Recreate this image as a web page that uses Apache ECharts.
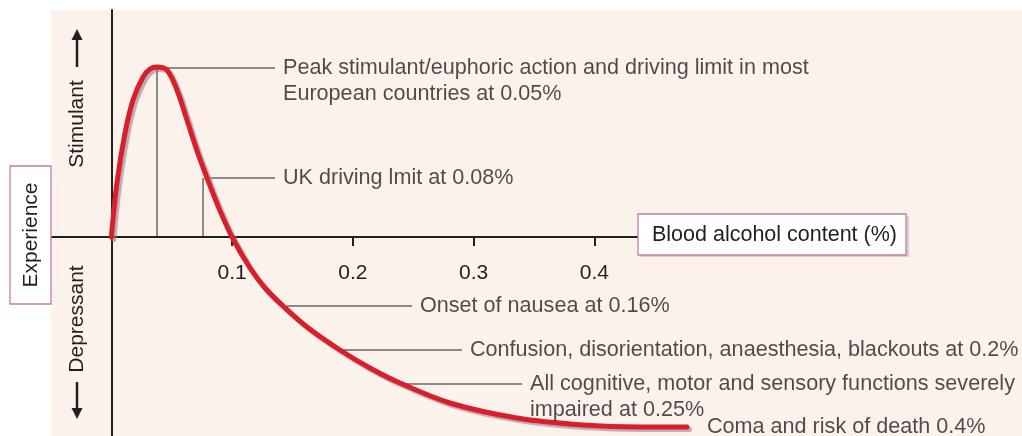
<!DOCTYPE html>
<html>
<head>
<meta charset="utf-8">
<script src="https://cdn.jsdelivr.net/npm/echarts@6/dist/echarts.min.js"></script>
<style>
  html, body { margin: 0; padding: 0; background: #ffffff; }
  #chart { width: 1022px; height: 436px; }
</style>
</head>
<body>
<div id="chart"></div>
<script>
// ---- data ----
// blood alcohol content (%) along the curve
const curveX = [0.000, 0.0046, 0.0113, 0.0179, 0.0262, 0.032, 0.0378, 0.046, 0.0543, 0.0626, 0.0701, 0.0792, 0.0883, 0.0999, 0.1148, 0.1272, 0.1421, 0.162, 0.1893, 0.2141, 0.239, 0.2804, 0.3359, 0.3906, 0.4378, 0.4767];
// experience (stimulant > 0, depressant < 0), arbitrary units
const curveY = [0, 54, 104, 137, 160, 168, 170, 167, 147, 117, 89, 59, 31, 0, -31, -51, -69, -90, -113, -131, -146, -166, -181, -188, -190, -190];

const xTickValues = [0.1, 0.2, 0.3, 0.4];
const xAxisLineSpan = [-0.05, 0.436];

const annoText = [
  'Peak stimulant/euphoric action and driving limit in most\nEuropean countries at 0.05%',
  'UK driving lmit at 0.08%',
  'Onset of nausea at 0.16%',
  'Confusion, disorientation, anaesthesia, blackouts at 0.2%',
  'All cognitive, motor and sensory functions severely\nimpaired at 0.25%',
  'Coma and risk of death 0.4%'
];
const annoY = [169, 59, -69, -113, -147, -190];
const annoLineStart = [0.046, 0.0817, 0.1454, 0.1877, 0.239, null];
const annoLineEnd = [0.1355, 0.1355, 0.2489, 0.2903, 0.3401, 0.4866];
// vertical drop lines (peak, UK limit)
const dropX = [0.0378, 0.0759];
const dropTop = [169, 59];

// ---- chart ----
const ink = '#231f20';
const font = '"Liberation Sans", Arial, Helvetica, sans-serif';
const chart = echarts.init(document.getElementById('chart'));

const series = [];
series.push({
  type: 'line', data: [[xAxisLineSpan[0], 0], [xAxisLineSpan[1], 0]],
  showSymbol: false, silent: true, z: 1,
  lineStyle: { color: ink, width: 2 }
});
dropX.forEach((x, i) => {
  series.push({
    type: 'line', data: [[x, 0], [x, dropTop[i]]], showSymbol: false, silent: true, z: 1,
    lineStyle: { color: ink, width: 1 }
  });
});
annoText.forEach((t, i) => {
  if (annoLineStart[i] !== null) {
    series.push({
      type: 'line', data: [[annoLineStart[i], annoY[i]], [annoLineEnd[i], annoY[i]]],
      showSymbol: false, silent: true, z: 1,
      lineStyle: { color: ink, width: 1 }
    });
  }
});
series.push({
  type: 'line', smooth: 0.35, showSymbol: false, silent: true, z: 5,
  data: curveX.map((x, i) => [x, curveY[i]]),
  lineStyle: {
    color: '#da1f2c', width: 5, cap: 'round', join: 'round',
    shadowColor: 'rgba(150,120,140,0.6)', shadowOffsetX: 2.5, shadowOffsetY: 2.5, shadowBlur: 1
  }
});
series.push({
  type: 'scatter', symbolSize: 0, silent: true, z: 6,
  data: annoText.map((t, i) => ({ value: [annoLineEnd[i], annoY[i]], name: t })),
  label: {
    show: true, position: [8, -13], align: 'left', verticalAlign: 'top',
    formatter: p => p.name, color: ink, fontSize: 21.6, lineHeight: 26, fontFamily: font
  }
});

const option = {
  animation: false,
  backgroundColor: '#ffffff',
  grid: { left: 51, right: 0, top: 10, bottom: 0, show: true, backgroundColor: '#fcf2ec', borderWidth: 0,
    containLabel: false, outerBoundsMode: 'none' },
  xAxis: {
    type: 'value', min: -0.05, max: 0.7541, position: 'bottom', offset: -199,
    axisLine: { onZero: false, lineStyle: { opacity: 0 } },
    axisTick: { show: true, customValues: xTickValues, length: 9, lineStyle: { color: ink, width: 2 } },
    axisLabel: { show: true, customValues: xTickValues, margin: 26, color: ink, fontSize: 21, fontFamily: font,
      formatter: v => v.toFixed(1) },
    splitLine: { show: false }
  },
  yAxis: {
    type: 'value', min: -199, max: 227,
    axisLine: { onZero: true, lineStyle: { color: ink, width: 2 } },
    axisTick: { show: false }, axisLabel: { show: false }, splitLine: { show: false }
  },
  series: series,
  graphic: [
    // Stimulant arrow + label
    { type: 'line', shape: { x1: 77, y1: 67, x2: 77, y2: 38 }, style: { stroke: ink, lineWidth: 2.5 }, z: 10 },
    { type: 'polygon', shape: { points: [[77, 29], [71.5, 40], [82.5, 40]] }, style: { fill: ink }, z: 10 },
    { type: 'text', x: 77, y: 124, rotation: Math.PI / 2,
      style: { text: 'Stimulant', fill: ink, font: '21px ' + font, align: 'center', verticalAlign: 'middle' }, z: 10 },
    // Depressant arrow + label
    { type: 'line', shape: { x1: 77, y1: 382, x2: 77, y2: 410 }, style: { stroke: ink, lineWidth: 2.5 }, z: 10 },
    { type: 'polygon', shape: { points: [[77, 419], [71.5, 408], [82.5, 408]] }, style: { fill: ink }, z: 10 },
    { type: 'text', x: 77, y: 319, rotation: Math.PI / 2,
      style: { text: 'Depressant', fill: ink, font: '21px ' + font, align: 'center', verticalAlign: 'middle' }, z: 10 },
    // Experience box
    { type: 'rect', shape: { x: 10, y: 166, width: 41, height: 138 }, style: { fill: '#ffffff', stroke: '#c27e9b', lineWidth: 1.3 }, z: 10 },
    { type: 'text', x: 31, y: 235, rotation: Math.PI / 2,
      style: { text: 'Experience', fill: ink, font: '21px ' + font, align: 'center', verticalAlign: 'middle' }, z: 11 },
    // Blood alcohol content box
    { type: 'rect', shape: { x: 640, y: 216, width: 269, height: 41 }, style: { fill: '#d9ccd0' }, z: 10 },
    { type: 'rect', shape: { x: 638, y: 214, width: 268, height: 41 }, style: { fill: '#ffffff', stroke: '#c27e9b', lineWidth: 1.3 }, z: 11 },
    { type: 'text', x: 652, y: 235,
      style: { text: 'Blood alcohol content (%)', fill: ink, font: '21.5px ' + font, align: 'left', verticalAlign: 'middle' }, z: 12 }
  ]
};
chart.setOption(option);
</script>
</body>
</html>
